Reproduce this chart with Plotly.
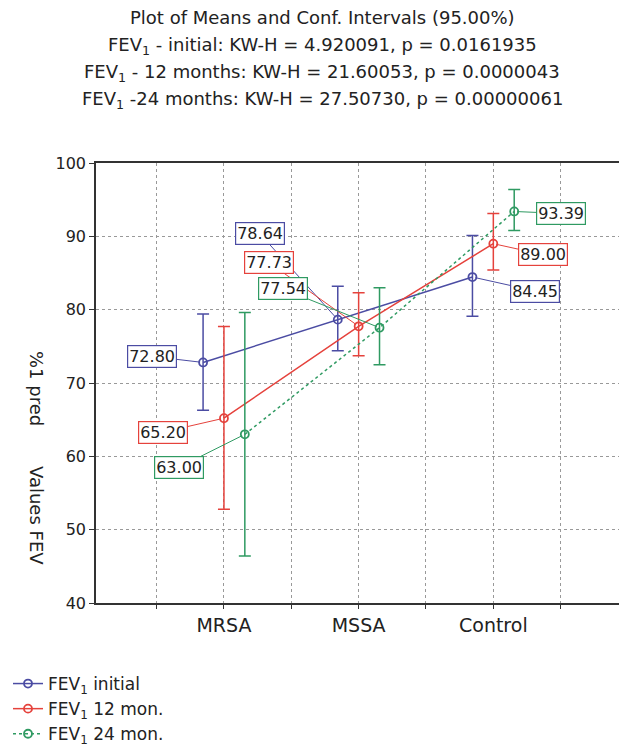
import plotly.graph_objects as go

categories = ["MRSA", "MSSA", "Control"]
series_names = ["FEV<sub>1</sub> initial", "FEV<sub>1</sub> 12 mon.", "FEV<sub>1</sub> 24 mon."]

fev_initial = [72.80, 78.64, 84.45]
fev_initial_low = [66.3, 74.4, 79.1]
fev_initial_high = [79.4, 83.2, 90.1]

fev_12 = [65.20, 77.73, 89.00]
fev_12_low = [52.8, 73.7, 85.4]
fev_12_high = [77.7, 82.3, 93.1]

fev_24 = [63.00, 77.54, 93.39]
fev_24_low = [46.4, 72.5, 90.8]
fev_24_high = [79.6, 83.0, 96.4]

title_lines = [
    "Plot of Means and Conf. Intervals (95.00%)",
    "FEV<sub>1</sub> - initial: KW-H = 4.920091, p = 0.0161935",
    "FEV<sub>1</sub> - 12 months: KW-H = 21.60053, p = 0.0000043",
    "FEV<sub>1</sub> -24 months: KW-H = 27.50730, p = 0.00000061",
]
y_ticks = [40, 50, 60, 70, 80, 90, 100]

# the page body adds an 8px margin; layout numbers below are reference pixels minus 8
OFF = 8
W, H = 627 - OFF, 755 - OFF
L, R, T, B = 96 - OFF, 626 - OFF, 163 - OFF, 603 - OFF
FONT = "DejaVu Sans, Liberation Sans, Arial"

colors = ["#4b4ca3", "#e5423c", "#2f9a62"]
dashes = ["solid", "solid", "dot"]
offsets = [-0.155, 0.0, 0.155]
means = [fev_initial, fev_12, fev_24]
lows = [fev_initial_low, fev_12_low, fev_24_low]
highs = [fev_initial_high, fev_12_high, fev_24_high]

# label offsets (pixels, box centre relative to point)
label_offsets = [
    [(-51, -6), (-78, -86), (63, 14)],
    [(-61, 14), (-90, -64), (50, 11)],
    [(-66, 33), (-97, -39), (47, 2)],
]

fig = go.Figure()
annotations = []
for s in range(3):
    xs = [i + 1 + offsets[s] for i in range(len(categories))]
    fig.add_trace(go.Scatter(
        x=xs, y=means[s], name=series_names[s], mode="lines+markers",
        line=dict(color=colors[s], width=1.5, dash=dashes[s]),
        marker=dict(symbol="circle-open", size=8, color=colors[s], line=dict(width=1.8, color=colors[s])),
        error_y=dict(type="data", symmetric=False,
                     array=[h - m for h, m in zip(highs[s], means[s])],
                     arrayminus=[m - l for m, l in zip(means[s], lows[s])],
                     color=colors[s], thickness=1.5, width=6),
    ))
    for i in range(3):
        ax, ay = label_offsets[s][i]
        annotations.append(dict(
            x=xs[i], y=means[s][i], xref="x", yref="y",
            text=f"{means[s][i]:.2f}", showarrow=True, arrowhead=0,
            arrowwidth=1, arrowcolor=colors[s], ax=ax, ay=ay, standoff=3,
            bordercolor=colors[s], borderwidth=1.2, borderpad=1, bgcolor="white",
            font=dict(family=FONT, size=16, color="#222"),
        ))

def py2paper(py):
    return (B - (py - OFF)) / (B - T)

def px2paper(px):
    return ((px - OFF) - L) / (R - L)

title_y = [18, 46, 73, 100]
for line, ty in zip(title_lines, title_y):
    annotations.append(dict(
        x=px2paper(322), y=py2paper(ty), xref="paper", yref="paper",
        text=line, showarrow=False, xanchor="center", yanchor="middle",
        font=dict(family=FONT, size=18, color="#222"),
    ))

annotations.append(dict(x=px2paper(37), y=py2paper(388), xref="paper", yref="paper",
                        xanchor="center", yanchor="middle",
                        text="%1 pred", textangle=90, showarrow=False,
                        font=dict(family=FONT, size=18, color="#222")))
annotations.append(dict(x=px2paper(37), y=py2paper(515), xref="paper", yref="paper",
                        xanchor="center", yanchor="middle",
                        text="Values FEV", textangle=90, showarrow=False,
                        font=dict(family=FONT, size=18, color="#222")))

fig.update_layout(
    width=W, height=H,
    margin=dict(l=L, r=W - R, t=T, b=H - B, autoexpand=False),
    paper_bgcolor="white", plot_bgcolor="white",
    font=dict(family=FONT, size=16, color="#222"),
    showlegend=True,
    legend=dict(xref="container", yref="container", x=0.0, y=1 - (666 - OFF) / H,
                xanchor="left", yanchor="top", font=dict(family=FONT, size=17),
                tracegroupgap=0, itemwidth=30, bgcolor="rgba(0,0,0,0)"),
    annotations=annotations,
    xaxis=dict(range=[0.05, 3.985], tickvals=[1, 2, 3], ticktext=categories,
               showgrid=True, gridcolor="#999", griddash="dot", gridwidth=1,
               showline=True, linecolor="#333", linewidth=1.5, mirror=True,
               ticks="outside", ticklen=4, tickcolor="#333", zeroline=False,
               tickfont=dict(family=FONT, size=19), automargin=False,
               minor=dict(tickvals=[0.5, 1.5, 2.5, 3.5], showgrid=True, gridcolor="#999",
                          griddash="dot", gridwidth=1, ticks="outside", ticklen=4, tickcolor="#333")),
    yaxis=dict(range=[40, 100], tickvals=y_ticks,
               showgrid=True, gridcolor="#999", griddash="dot", gridwidth=1,
               showline=True, linecolor="#333", linewidth=1.5, mirror="ticks",
               ticks="outside", ticklen=5, tickcolor="#333", zeroline=False,
               tickfont=dict(family=FONT, size=16), automargin=False),
)

fig.write_html("out.html")
